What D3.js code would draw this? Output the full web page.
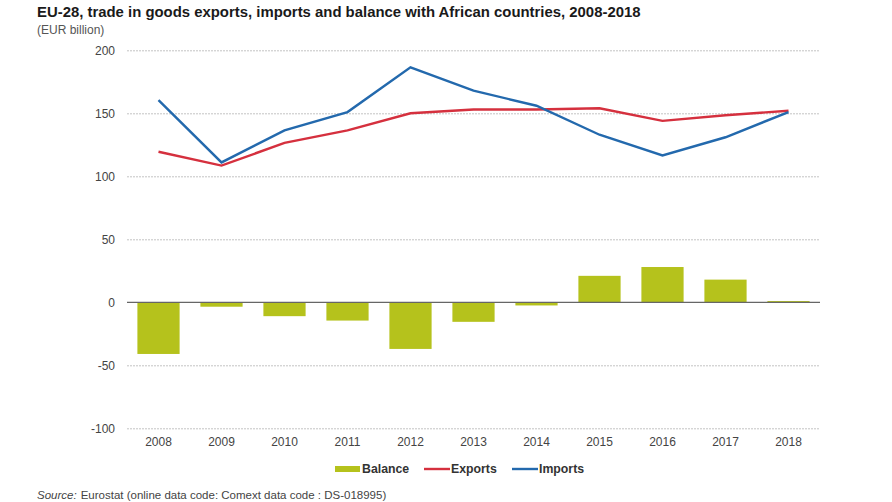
<!DOCTYPE html>
<html><head><meta charset="utf-8">
<script src="https://cdn.jsdelivr.net/npm/d3@7"></script>
<style>
html,body{margin:0;padding:0;background:#fff}
svg{display:block;font-family:"Liberation Sans",Arial,sans-serif}
</style></head><body>
<svg id="c" width="892" height="502"></svg>
<script>
const years=["2008","2009","2010","2011","2012","2013","2014","2015","2016","2017","2018"];
const balance=[-41,-3.5,-11,-14.5,-37,-15.5,-2.5,21,28,18,1];
const exportsV=[119.5,108.5,126.5,136.5,150,153,153,154,144,148.5,152];
const importsV=[160.5,111,136.5,151,186.5,168,156,133,116.5,131,151];
const yTicks=[200,150,100,50,0,-50,-100];
const seriesNames=["Balance","Exports","Imports"];
const colors={Balance:"#b5c21c",Exports:"#d5303e",Imports:"#2369ad"};

const svg=d3.select("#c");
const x=d3.scaleBand().domain(years).range([127,820]).paddingInner(0.33).paddingOuter(0.165);
const y=d3.scaleLinear().domain([-100,200]).range([428.3,50.3]);
const cx=d=>x(d)+x.bandwidth()/2;

svg.append("text").attr("x",37).attr("y",17).attr("font-size",14.9).attr("font-weight",700).attr("fill","#1a1a1a")
  .text("EU-28, trade in goods exports, imports and balance with African countries, 2008-2018");
svg.append("text").attr("x",37).attr("y",34).attr("font-size",12).attr("fill","#555").text("(EUR billion)");

const yAxis=svg.append("g").attr("transform","translate(127,0)")
  .call(d3.axisLeft(y).tickValues(yTicks).tickFormat(d=>String(d)).tickSize(0).tickPadding(12));
yAxis.select(".domain").remove();
yAxis.selectAll("text").attr("font-size",12).attr("font-family","'Liberation Sans',Arial,sans-serif").attr("fill","#444");
yAxis.selectAll("line").attr("x1",0).attr("x2",693).attr("stroke","#c4c4c4").attr("stroke-width",1).attr("stroke-dasharray","2 1")
  .filter(d=>d===0).attr("stroke","none");

svg.append("g").selectAll("rect").data(years).join("rect")
  .attr("x",d=>x(d)).attr("width",x.bandwidth())
  .attr("y",(d,i)=>y(Math.max(0,balance[i])))
  .attr("height",(d,i)=>Math.abs(y(balance[i])-y(0)))
  .attr("fill",colors.Balance);

svg.append("line").attr("x1",127).attr("x2",820).attr("y1",y(0)).attr("y2",y(0)).attr("stroke","#666").attr("stroke-width",1.2);

const line=d3.line().x((d,i)=>cx(years[i])).y(d=>y(d));
svg.append("path").attr("d",line(exportsV)).attr("fill","none").attr("stroke",colors.Exports).attr("stroke-width",2.4);
svg.append("path").attr("d",line(importsV)).attr("fill","none").attr("stroke",colors.Imports).attr("stroke-width",2.4);

const xAxis=svg.append("g").attr("transform","translate(0,428)")
  .call(d3.axisBottom(x).tickSize(0).tickPadding(9));
xAxis.select(".domain").remove();
xAxis.selectAll("text").attr("font-size",12).attr("font-family","'Liberation Sans',Arial,sans-serif").attr("fill","#444");

const leg=svg.append("g");
const swatchX={Balance:335,Exports:424,Imports:512};
seriesNames.forEach(n=>{
  if(n==="Balance"){
    leg.append("rect").attr("x",swatchX[n]).attr("y",466).attr("width",25).attr("height",6).attr("fill",colors[n]);
  } else {
    leg.append("line").attr("x1",swatchX[n]).attr("x2",swatchX[n]+26).attr("y1",469).attr("y2",469).attr("stroke",colors[n]).attr("stroke-width",2.4);
  }
  leg.append("text").attr("x",swatchX[n]+27).attr("y",473).attr("font-size",12.3).attr("font-weight",700).attr("fill","#333").text(n);
});

const src=svg.append("text").attr("x",37).attr("y",499).attr("font-size",11.5).attr("fill","#444");
src.append("tspan").attr("font-style","italic").text("Source:");
src.append("tspan").attr("dx",4).text("Eurostat (online data code: Comext data code : DS-018995)");
</script>
</body></html>
